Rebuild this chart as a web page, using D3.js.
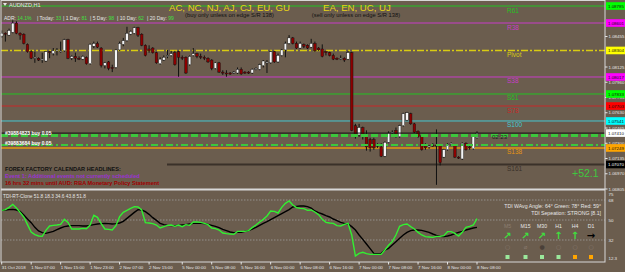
<!DOCTYPE html>
<html>
<head>
<meta charset="utf-8">
<script src="https://cdn.jsdelivr.net/npm/d3@7"></script>
<style>
body { margin: 0; background: #6b5d4e; }
svg { display: block; font-family: "Liberation Sans", Arial, sans-serif; }
</style>
</head>
<body>
<script>
// AUDNZD H1 candles, 31 Oct 23:00 .. 8 Nov 08:00
var open = [1.0846,1.0849,1.0847,1.0850,1.0860,1.0849,1.0848,1.0837,1.0829,1.0822,
  1.0822,1.0820,1.0819,1.0829,1.0827,1.0830,1.0830,1.0830,1.0842,1.0822,
  1.0824,1.0822,1.0821,1.0823,1.0816,1.0835,1.0838,1.0833,1.0814,1.0818,
  1.0812,1.0812,1.0831,1.0837,1.0841,1.0848,1.0849,1.0855,1.0848,1.0836,
  1.0832,1.0833,1.0828,1.0816,1.0820,1.0824,1.0825,1.0828,1.0829,1.0823,
  1.0823,1.0815,1.0825,1.0827,1.0824,1.0823,1.0822,1.0820,1.0811,1.0817,
  1.0807,1.0806,1.0806,1.0806,1.0806,1.0810,1.0807,1.0807,1.0806,1.0810,
  1.0810,1.0814,1.0817,1.0817,1.0829,1.0818,1.0825,1.0831,1.0838,1.0844,
  1.0838,1.0833,1.0837,1.0836,1.0834,1.0838,1.0833,1.0832,1.0829,1.0828,
  1.0825,1.0822,1.0822,1.0822,1.0821,1.0828,1.0749,1.0739,1.0747,1.0737,
  1.0734,1.0734,1.0728,1.0726,1.0716,1.0731,1.0741,1.0744,1.0737,1.0749,
  1.0755,1.0762,1.0751,1.0743,1.0738,1.0727,1.0726,1.0728,1.0728,1.0728,
  1.0715,1.0723,1.0729,1.0728,1.0715,1.0713,1.0730,1.0726,1.0724,1.0736];
var high = [1.0852,1.0850,1.0854,1.0863,1.0862,1.0850,1.0849,1.0838,1.0831,1.0829,
  1.0823,1.0828,1.0830,1.0830,1.0833,1.0833,1.0840,1.0843,1.0843,1.0825,
  1.0828,1.0824,1.0825,1.0824,1.0838,1.0840,1.0840,1.0834,1.0818,1.0819,
  1.0815,1.0832,1.0840,1.0844,1.0856,1.0852,1.0856,1.0856,1.0849,1.0837,
  1.0836,1.0834,1.0829,1.0823,1.0825,1.0831,1.0830,1.0830,1.0830,1.0825,
  1.0824,1.0825,1.0833,1.0828,1.0827,1.0825,1.0823,1.0821,1.0818,1.0818,
  1.0809,1.0809,1.0807,1.0808,1.0812,1.0812,1.0808,1.0808,1.0811,1.0812,
  1.0816,1.0820,1.0820,1.0830,1.0830,1.0827,1.0832,1.0840,1.0847,1.0845,
  1.0840,1.0840,1.0838,1.0837,1.0843,1.0840,1.0834,1.0837,1.0830,1.0829,
  1.0827,1.0823,1.0825,1.0823,1.0830,1.0829,1.0751,1.0751,1.0748,1.0744,
  1.0736,1.0736,1.0730,1.0730,1.0732,1.0743,1.0744,1.0747,1.0750,1.0763,
  1.0764,1.0763,1.0752,1.0744,1.0739,1.0730,1.0728,1.0730,1.0745,1.0729,
  1.0724,1.0730,1.0731,1.0729,1.0716,1.0731,1.0731,1.0728,1.0738,1.0743];
var low = [1.0844,1.0840,1.0846,1.0849,1.0848,1.0842,1.0837,1.0828,1.0821,1.0817,
  1.0819,1.0817,1.0818,1.0822,1.0825,1.0825,1.0828,1.0829,1.0821,1.0820,
  1.0818,1.0820,1.0820,1.0815,1.0815,1.0833,1.0833,1.0812,1.0811,1.0809,
  1.0807,1.0811,1.0830,1.0835,1.0840,1.0847,1.0848,1.0845,1.0835,1.0824,
  1.0828,1.0827,1.0816,1.0815,1.0819,1.0822,1.0824,1.0814,1.0802,1.0820,
  1.0805,1.0814,1.0824,1.0822,1.0821,1.0820,1.0817,1.0809,1.0810,1.0806,
  1.0804,1.0802,1.0804,1.0805,1.0805,1.0804,1.0805,1.0805,1.0805,1.0809,
  1.0809,1.0812,1.0806,1.0816,1.0817,1.0817,1.0824,1.0823,1.0837,1.0837,
  1.0832,1.0832,1.0833,1.0832,1.0833,1.0829,1.0830,1.0823,1.0825,1.0824,
  1.0820,1.0820,1.0820,1.0818,1.0820,1.0743,1.0735,1.0737,1.0734,1.0722,
  1.0721,1.0723,1.0725,1.0715,1.0715,1.0730,1.0740,1.0736,1.0736,1.0748,
  1.0754,1.0750,1.0741,1.0736,1.0722,1.0723,1.0724,1.0726,1.0685,1.0706,
  1.0714,1.0722,1.0727,1.0714,1.0713,1.0712,1.0722,1.0723,1.0723,1.0735];
var close = [1.0849,1.0848,1.0852,1.0860,1.0849,1.0847,1.0838,1.0829,1.0822,1.0823,
  1.0820,1.0821,1.0829,1.0828,1.0830,1.0831,1.0830,1.0842,1.0822,1.0824,
  1.0822,1.0821,1.0824,1.0816,1.0837,1.0838,1.0834,1.0814,1.0817,1.0811,
  1.0811,1.0831,1.0838,1.0841,1.0849,1.0851,1.0855,1.0847,1.0836,1.0825,
  1.0830,1.0828,1.0817,1.0821,1.0823,1.0825,1.0827,1.0815,1.0823,1.0822,
  1.0806,1.0824,1.0827,1.0824,1.0823,1.0822,1.0818,1.0811,1.0817,1.0807,
  1.0806,1.0805,1.0805,1.0807,1.0810,1.0805,1.0806,1.0806,1.0810,1.0811,
  1.0815,1.0819,1.0818,1.0829,1.0818,1.0825,1.0831,1.0838,1.0844,1.0838,
  1.0833,1.0838,1.0835,1.0833,1.0838,1.0830,1.0831,1.0824,1.0828,1.0825,
  1.0821,1.0821,1.0822,1.0820,1.0828,1.0744,1.0739,1.0747,1.0737,1.0726,
  1.0725,1.0725,1.0727,1.0716,1.0731,1.0741,1.0742,1.0737,1.0749,1.0762,
  1.0763,1.0751,1.0742,1.0737,1.0723,1.0725,1.0727,1.0727,1.0727,1.0709,
  1.0723,1.0729,1.0730,1.0715,1.0714,1.0730,1.0723,1.0725,1.0737,1.0741];

// TDI sub window: green price line and black signal line
var tdiGreen = [58.7,59.3,61.4,64.1,60.8,56.9,52.7,45.8,39.2,36.8,
  35.6,35.3,40.7,44.6,45.2,45.5,46.1,50.6,47.9,41.9,
  41.9,41.9,42.5,42.2,45.5,54.2,52.4,46.7,41.9,41.6,
  41.0,44.9,53.0,56.9,58.7,60.5,62.0,61.7,59.0,47.6,
  47.3,46.7,45.5,42.8,44.0,45.2,45.5,44.3,45.5,44.0,
  45.8,45.2,48.2,48.2,47.9,47.0,45.8,42.8,42.2,41.0,
  38.3,37.7,37.4,37.1,39.8,39.8,39.8,40.4,43.1,45.5,
  48.2,50.6,53.6,58.1,57.8,56.3,61.4,65.0,67.1,63.5,
  61.1,60.5,60.2,58.7,59.0,57.2,54.8,50.6,47.9,47.3,
  47.0,44.9,44.6,46.1,47.0,36.5,17.6,20.0,20.9,19.7,
  19.1,19.1,19.1,19.1,23.0,27.2,30.5,36.5,44.3,45.8,
  46.4,44.0,41.9,38.9,36.5,35.0,34.7,34.4,35.3,35.3,
  35.9,39.5,39.5,38.0,35.6,38.9,43.4,44.3,45.5,51.2];
var tdiSignal = [58.7,59.0,59.3,59.6,59.0,57.8,54.5,50.9,47.6,43.4,
  40.1,38.6,38.0,38.9,39.8,41.3,42.8,44.0,44.6,44.9,
  44.9,44.9,44.6,44.6,45.2,45.8,46.4,46.7,47.0,46.7,
  46.4,46.7,47.3,48.8,51.5,54.2,56.9,59.3,59.0,57.5,
  55.1,52.1,49.7,47.0,45.8,45.2,44.9,44.9,45.2,45.5,
  45.8,46.4,47.0,47.0,47.0,46.7,46.1,45.2,44.3,43.1,
  41.6,40.4,39.2,38.6,38.9,38.9,39.8,40.4,41.9,43.4,
  45.2,47.0,48.5,50.3,52.1,53.9,55.7,57.5,59.3,61.7,
  62.3,62.6,62.6,62.0,60.8,58.1,56.6,55.4,53.9,52.7,
  50.9,49.4,47.9,47.0,46.4,44.0,41.0,36.5,32.6,28.4,
  24.2,20.0,19.7,20.0,23.0,24.5,27.5,30.5,33.5,36.5,
  38.9,40.4,41.0,41.0,40.7,39.8,38.9,37.4,36.2,35.3,
  35.0,35.6,36.5,37.7,38.9,39.8,41.0,41.9,42.8,43.4];
var tdiLevels = [68, 50, 32];

var timeIdx = [0,8,16,24,32,40,49,57,65,73,81,89,97,105,113,121,129];
var timeLabels = ["31 Oct 2018","1 Nov 07:00","1 Nov 15:00","1 Nov 23:00","2 Nov 07:00","2 Nov 15:00",
  "5 Nov 00:00","5 Nov 08:00","5 Nov 16:00","6 Nov 00:00","6 Nov 08:00","6 Nov 16:00",
  "7 Nov 00:00","7 Nov 08:00","7 Nov 16:00","8 Nov 00:00","8 Nov 08:00"];

// visible price scale labels (others are covered by the level boxes)
var priceTicks = [1.08455,1.08125,1.07960,1.07795,1.07630,1.07465,1.07300,1.07135,1.06970,1.06805];

// pivot / fib levels
var levelNames = ["R61","R38","Pivot","S38","S61","S78","S100","S138","S161"];
var levelPrices = [1.08785,1.08601,1.08304,1.08017,1.07833,1.07703,1.07541,1.07249,1.07070];
var levelColors = ["#22c322","#c83cc8","#d9cc12","#c83cc8","#22c322","#c82828","#46c8d2","#e69612","#3a3129"];
var levelBoxes = ["#00ff00","#ff00ff","#ffff00","#ff00ff","#00ff00","#ff0000","#00ffff","#ffa500","#000000"];

var orderPrices = [1.07384, 1.07281];
var orderLabels = ["#39884823 buy 0.05", "#39883684 buy 0.05"];

var adrNames = ["ADR:", "| Today:", "| 1 Day:", "| 5 Day:", "| 10 Day:", "| 20 Day:"];
var adrValues = ["14.1%", "33", "81", "98", "62", "99"];

var tfNames = ["M5","M15","M30","H1","H4","D1"];
var tfArrows = ["\u2197","\u2197","\u2197","\u2191","\u2191","\u2192"];
var tfArrowColors = ["#3ee03e","#3ee03e","#3ee03e","#3ee03e","#3ee03e","#000000"];
var tfDots = ["\u25CB","\u2300","\u25CF","\u25CB","\u25CB","\u25CB"];
var tfSquares = ["#9be89b","#9be89b","#9be89b","#9be89b","#ffa500","#ffa500"];

var w = 625, h = 272;
var fg = "#e6e6e6";

var svg = d3.select("body").append("svg")
  .attr("width", w)
  .attr("height", h);

svg.append("rect").attr("width", w).attr("height", h).attr("fill", "#6b5d4e");

var x = d3.scaleLinear().domain([0, open.length - 1]).range([1.7, 477]);
var y = d3.scaleLinear().domain([1.06805, 1.08850]).range([189, 0]);
var yT = d3.scaleLinear().domain([32, 68]).range([240, 200]);

// ---- level lines (background)
svg.selectAll("line.level")
  .data(levelPrices)
  .enter()
  .append("line")
  .attr("class", "level")
  .attr("x1", function(d, i) { return i == 8 ? 167 : 1; })
  .attr("x2", 605)
  .attr("y1", function(d) { return y(d); })
  .attr("y2", function(d) { return y(d); })
  .attr("stroke", function(d, i) { return levelColors[i]; })
  .attr("stroke-width", function(d, i) { return (i == 2 || i == 7) ? 1.5 : (i == 8 ? 2 : 1); })
  .attr("stroke-dasharray", function(d, i) { return i == 2 ? "7,2,2,2" : null; });

svg.selectAll("text.level")
  .data(levelPrices)
  .enter()
  .append("text")
  .attr("class", "level")
  .attr("x", 507)
  .attr("y", function(d) { return y(d) + 6.5; })
  .attr("font-size", "6.5px")
  .attr("fill", function(d, i) { return levelColors[i]; })
  .text(function(d, i) { return levelNames[i]; });

// ---- candles
var candles = svg.append("g");
candles.selectAll("line")
  .data(open)
  .enter()
  .append("line")
  .attr("x1", function(d, i) { return x(i); })
  .attr("x2", function(d, i) { return x(i); })
  .attr("y1", function(d, i) { return y(high[i]); })
  .attr("y2", function(d, i) { return y(low[i]); })
  .attr("stroke", "#111")
  .attr("stroke-width", 1);

candles.selectAll("rect")
  .data(open)
  .enter()
  .append("rect")
  .attr("x", function(d, i) { return x(i) - 1.3; })
  .attr("y", function(d, i) { return y(Math.max(d, close[i])); })
  .attr("width", 2.6)
  .attr("height", function(d, i) { return Math.max(1, Math.abs(y(d) - y(close[i]))); })
  .attr("fill", function(d, i) { return close[i] >= d ? "#f4f4f4" : "#8c0000"; })
  .attr("stroke", "#111")
  .attr("stroke-width", 0.4);

// ---- current price + order lines
var last = close[close.length - 1];
svg.append("line")
  .attr("x1", 1).attr("x2", 605)
  .attr("y1", y(last)).attr("y2", y(last))
  .attr("stroke", "#111").attr("stroke-width", 1);

svg.selectAll("line.order")
  .data(orderPrices)
  .enter()
  .append("line")
  .attr("class", "order")
  .attr("x1", 1).attr("x2", 605)
  .attr("y1", function(d) { return y(d); })
  .attr("y2", function(d) { return y(d); })
  .attr("stroke", "#3cc83c")
  .attr("stroke-width", function(d, i) { return i == 0 ? 3 : 2; })
  .attr("stroke-dasharray", function(d, i) { return i == 0 ? "7,3" : "7,3,2,3"; });

svg.selectAll("text.order")
  .data(orderPrices)
  .enter()
  .append("text")
  .attr("class", "order")
  .attr("x", 5)
  .attr("y", function(d, i) { return y(d) + (i == 0 ? -0.5 : 0); })
  .attr("font-size", "5px")
  .attr("font-weight", "bold")
  .attr("fill", "#ffffff")
  .text(function(d, i) { return orderLabels[i]; });

svg.append("text").attr("x", 492).attr("y", 139).attr("font-size", "6px")
  .attr("fill", "#1e1e1e").text("02:23");

svg.append("text").attr("x", 572).attr("y", 176.5).attr("font-size", "10.5px")
  .attr("fill", "#3fc83f").text("+52.1");

// ---- header texts
svg.append("path").attr("d", "M3,3 L7,3 L5,6 Z").attr("fill", fg);
svg.append("text").attr("x", 9).attr("y", 7).attr("font-size", "5.5px").attr("fill", fg).text("AUDNZD,H1");

var adrX = [4, 37, 63, 90, 117, 147];
var adrG = svg.append("g").attr("font-size", "5px");
adrNames.forEach(function(n, i) {
  var t = adrG.append("text").attr("x", adrX[i]).attr("y", 19.5);
  t.append("tspan").attr("fill", fg).text(n + " ");
  t.append("tspan").attr("fill", "#3fe03f").text(adrValues[i]);
});

svg.append("text").attr("x", 169).attr("y", 10.5).attr("font-size", "9.6px").attr("fill", "#e8d416")
  .text("AC, NC, NJ, AJ, CJ, EU, GU");
svg.append("text").attr("x", 323).attr("y", 10.5).attr("font-size", "9.6px").attr("fill", "#e8d416")
  .text("EA, EN, UC, UJ");
svg.append("text").attr("x", 229.5).attr("y", 16.8).attr("font-size", "5.8px").attr("fill", "#111")
  .attr("text-anchor", "middle").text("(buy only unless on edge S/R 138)");
svg.append("text").attr("x", 356).attr("y", 16.8).attr("font-size", "5.8px").attr("fill", "#111")
  .attr("text-anchor", "middle").text("(sell only unless on edge S/R 138)");

// ---- forex factory headlines
svg.append("text").attr("x", 5).attr("y", 170.5).attr("font-size", "5.6px").attr("font-weight", "bold")
  .attr("fill", "#111").text("FOREX FACTORY CALENDAR  HEADLINES:");
svg.append("text").attr("x", 5).attr("y", 178).attr("font-size", "5.6px").attr("font-weight", "bold")
  .attr("fill", "#9a32d2").text("Event 1: Additional events not currently scheduled");
svg.append("text").attr("x", 5).attr("y", 184.5).attr("font-size", "5.6px").attr("font-weight", "bold")
  .attr("fill", "#a00000").text("16 hrs 32 mins until AUD: RBA Monetary Policy Statement");

// ---- right price axis
svg.selectAll("text.tick")
  .data(priceTicks)
  .enter()
  .append("text")
  .attr("class", "tick")
  .attr("x", 608.5)
  .attr("y", function(d) { return y(d) + 1.6; })
  .attr("font-size", "4.4px")
  .attr("fill", fg)
  .text(function(d) { return d.toFixed(5); });

svg.selectAll("line.tick")
  .data(priceTicks)
  .enter()
  .append("line")
  .attr("class", "tick")
  .attr("x1", 605).attr("x2", 607.5)
  .attr("y1", function(d) { return y(d); })
  .attr("y2", function(d) { return y(d); })
  .attr("stroke", fg);

var boxPrices = levelPrices.slice(0, 8).concat([last, levelPrices[8]]);
var boxFills = levelBoxes.slice(0, 8).concat(["#ffffff", levelBoxes[8]]);
var boxes = svg.selectAll("g.box")
  .data(boxPrices)
  .enter()
  .append("g")
  .attr("class", "box")
  .attr("transform", function(d) { return "translate(606," + y(d) + ")"; });
boxes.append("rect")
  .attr("x", 0).attr("y", -3.8).attr("width", 19).attr("height", 7.6)
  .attr("fill", function(d, i) { return boxFills[i]; });
boxes.append("text")
  .attr("x", 2).attr("y", 1.6)
  .attr("font-size", "4.4px")
  .attr("fill", function(d, i) { return boxFills[i] == "#000000" ? "#fff" : "#111"; })
  .text(function(d) { return d.toFixed(5); });

// ---- TDI sub window
svg.selectAll("line.tdi")
  .data(tdiLevels)
  .enter()
  .append("line")
  .attr("class", "tdi")
  .attr("x1", 1).attr("x2", 605)
  .attr("y1", function(d) { return yT(d); })
  .attr("y2", function(d) { return yT(d); })
  .attr("stroke", "#a8a8a8")
  .attr("stroke-width", 0.7)
  .attr("stroke-dasharray", "1.5,1.5");

var tdiLine = d3.line()
  .x(function(d, i) { return x(i); })
  .y(function(d) { return yT(d); });

svg.append("path").datum(tdiSignal).attr("d", tdiLine)
  .attr("fill", "none").attr("stroke", "#000").attr("stroke-width", 1.4);
svg.append("path").datum(tdiGreen).attr("d", tdiLine)
  .attr("fill", "none").attr("stroke", "#32f032").attr("stroke-width", 1.4);

svg.append("text").attr("x", 3).attr("y", 197.5).attr("font-size", "4.8px").attr("fill", fg)
  .text("TDI-RT-Clone 51.8 18.3 34.6 43.8 51.8");

var tdiAxis = [75].concat(tdiLevels).concat([12.3]);
svg.selectAll("text.tdiax")
  .data(tdiAxis)
  .enter()
  .append("text")
  .attr("class", "tdiax")
  .attr("x", 608.5)
  .attr("y", function(d) { return Math.max(196, Math.min(260, yT(d) + 1.6)); })
  .attr("font-size", "4.4px")
  .attr("fill", fg)
  .text(function(d) { return d; });

svg.append("text").attr("x", 601).attr("y", 207.5).attr("font-size", "5.2px").attr("fill", fg)
  .attr("text-anchor", "end").text("TDI WAvg Angle: 64\u00B0  Green: 78\u00B0  Red: 59\u00B0");
svg.append("text").attr("x", 601).attr("y", 214.5).attr("font-size", "5.2px").attr("fill", fg)
  .attr("text-anchor", "end").text("TDI Sepeation: STRONG [8.1]");

var tfX = [507.5, 525.5, 542, 558.5, 575, 591];
var tf = svg.selectAll("g.tf")
  .data(tfNames)
  .enter()
  .append("g")
  .attr("class", "tf")
  .attr("transform", function(d, i) { return "translate(" + tfX[i] + ",0)"; })
  .attr("text-anchor", "middle");
tf.append("text").attr("y", 227.5).attr("font-size", "5.2px")
  .attr("fill", function(d, i) { return i == 0 ? "#8c7e70" : fg; })
  .text(function(d) { return d; });
tf.append("text").attr("y", 239).attr("font-size", "10px").attr("font-weight", "bold")
  .attr("font-family", "DejaVu Sans")
  .attr("fill", function(d, i) { return tfArrowColors[i]; })
  .text(function(d, i) { return tfArrows[i]; });
tf.append("text").attr("y", 248.5).attr("font-size", "6px")
  .attr("font-family", "DejaVu Sans")
  .attr("fill", function(d, i) { return tfDots[i] == "\u25CF" ? "#4a4038" : "#8a7c6e"; })
  .text(function(d, i) { return tfDots[i]; });
tf.append("rect").attr("x", -2).attr("y", 255).attr("width", 4).attr("height", 4)
  .attr("fill", function(d, i) { return tfSquares[i]; });

// ---- frames and time axis
svg.append("rect").attr("x", 1).attr("y", 0.5).attr("width", 604).attr("height", 261.5)
  .attr("fill", "none").attr("stroke", "#d8d8d8").attr("stroke-width", 1);
svg.append("line").attr("x1", 1).attr("x2", 605).attr("y1", 189.5).attr("y2", 189.5)
  .attr("stroke", "#d8d8d8").attr("stroke-width", 2);

svg.selectAll("line.time")
  .data(timeIdx)
  .enter()
  .append("line")
  .attr("class", "time")
  .attr("x1", function(d) { return x(d); })
  .attr("x2", function(d) { return x(d); })
  .attr("y1", 262).attr("y2", 264.5)
  .attr("stroke", fg);

svg.selectAll("text.time")
  .data(timeIdx)
  .enter()
  .append("text")
  .attr("class", "time")
  .attr("x", function(d) { return x(d); })
  .attr("y", 269)
  .attr("font-size", "4.4px")
  .attr("fill", fg)
  .text(function(d, i) { return timeLabels[i]; });
</script>
</body>
</html>
